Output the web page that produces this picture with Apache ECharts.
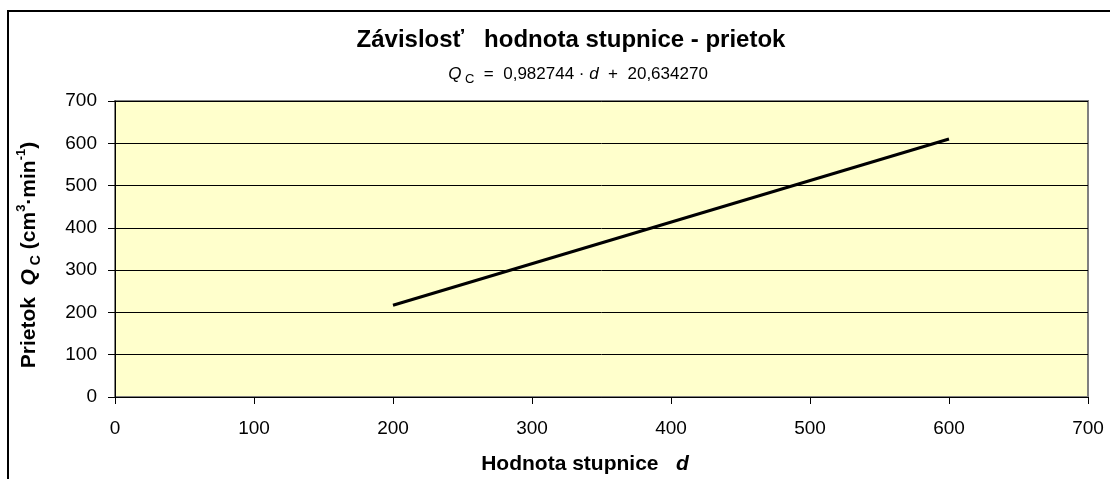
<!DOCTYPE html>
<html>
<head>
<meta charset="utf-8">
<script src="https://cdn.jsdelivr.net/npm/echarts@6/dist/echarts.min.js"></script>
<style>
html,body{margin:0;padding:0;background:#fff;}
#c{width:1110px;height:479px;}
</style>
</head>
<body>
<div id="c"></div>
<script>
// Data
const dValues = [200, 600];
const qValues = [217, 610];
const xTicks = [0, 100, 200, 300, 400, 500, 600, 700];
const yTicks = [0, 100, 200, 300, 400, 500, 600, 700];
const titleText = 'Závislosť   hodnota stupnice - prietok';

const FONT = '"Liberation Sans", Arial, sans-serif';
const chart = echarts.init(document.getElementById('c'), null, {renderer: 'canvas'});

const seriesData = dValues.map((d, i) => [d, qValues[i]]);

chart.setOption({
  animation: false,
  backgroundColor: '#ffffff',
  textStyle: {fontFamily: FONT},
  grid: {
    left: 115, top: 101, right: 22, bottom: 82,
    show: true, backgroundColor: '#FFFFCC', borderColor: '#808080', borderWidth: 2
  },
  xAxis: {
    type: 'value', min: xTicks[0], max: xTicks[xTicks.length - 1], interval: 100,
    axisLine: {show: true, onZero: false, lineStyle: {color: '#000', width: 1}},
    axisTick: {show: true, length: 7, lineStyle: {color: '#000'}},
    axisLabel: {color: '#000', fontSize: 19, fontFamily: FONT, margin: 22},
    splitLine: {show: false}
  },
  yAxis: {
    type: 'value', min: yTicks[0], max: yTicks[yTicks.length - 1], interval: 100,
    axisLine: {show: true, onZero: false, lineStyle: {color: '#000', width: 1}},
    axisTick: {show: true, length: 7, lineStyle: {color: '#000'}},
    axisLabel: {color: '#000', fontSize: 19, fontFamily: FONT, margin: 18},
    splitLine: {show: true, lineStyle: {color: '#000', width: 1}}
  },
  series: [{
    type: 'line',
    data: seriesData,
    symbol: 'none',
    lineStyle: {color: '#000', width: 3},
    z: 5
  }],
  graphic: [
    {
      type: 'rect', silent: true, z: -10,
      shape: {x: 8, y: 11, width: 1200, height: 600},
      style: {fill: 'none', stroke: '#000', lineWidth: 2}
    },
    {
      type: 'text', x: 571, y: 40,
      style: {
        text: titleText, fill: '#000', font: 'bold 24px ' + FONT,
        align: 'center', verticalAlign: 'middle'
      }
    },
    {
      type: 'text', x: 578, y: 74,
      style: {
        text: '{q|Q}{s| C}{n|  =  0,982744 · }{q|d}{n|  +  20,634270}',
        align: 'center', verticalAlign: 'middle', fill: '#000',
        rich: {
          q: {fontFamily: FONT, fontSize: 17, fontStyle: 'italic', lineHeight: 24, fill: '#000'},
          n: {fontFamily: FONT, fontSize: 17, lineHeight: 24, fill: '#000'},
          s: {fontFamily: FONT, fontSize: 13, lineHeight: 24, verticalAlign: 'bottom', fill: '#000'}
        }
      }
    },
    {
      type: 'text', x: 585, y: 464,
      style: {
        text: '{b|Hodnota stupnice   }{bi|d}',
        align: 'center', verticalAlign: 'middle', fill: '#000',
        rich: {
          b: {fontFamily: FONT, fontSize: 21, fontWeight: 'bold', fill: '#000'},
          bi: {fontFamily: FONT, fontSize: 21, fontWeight: 'bold', fontStyle: 'italic', fill: '#000'}
        }
      }
    },
    {
      type: 'text', x: 29, y: 255, rotation: Math.PI / 2,
      style: {
        text: '{b|Prietok  }{bi|Q}{s| C}{b| (cm}{sup|3}{b|·min}{sup|-1}{b|)}',
        align: 'center', verticalAlign: 'middle', fill: '#000',
        rich: {
          b: {fontFamily: FONT, fontSize: 21, fontWeight: 'bold', lineHeight: 28, fill: '#000'},
          bi: {fontFamily: FONT, fontSize: 21, fontWeight: 'bold', fontStyle: 'italic', lineHeight: 28, fill: '#000'},
          s: {fontFamily: FONT, fontSize: 14, fontWeight: 'bold', lineHeight: 28, verticalAlign: 'bottom', fill: '#000'},
          sup: {fontFamily: FONT, fontSize: 13, fontWeight: 'bold', lineHeight: 28, verticalAlign: 'top', fill: '#000'}
        }
      }
    }
  ]
});
</script>
</body>
</html>
